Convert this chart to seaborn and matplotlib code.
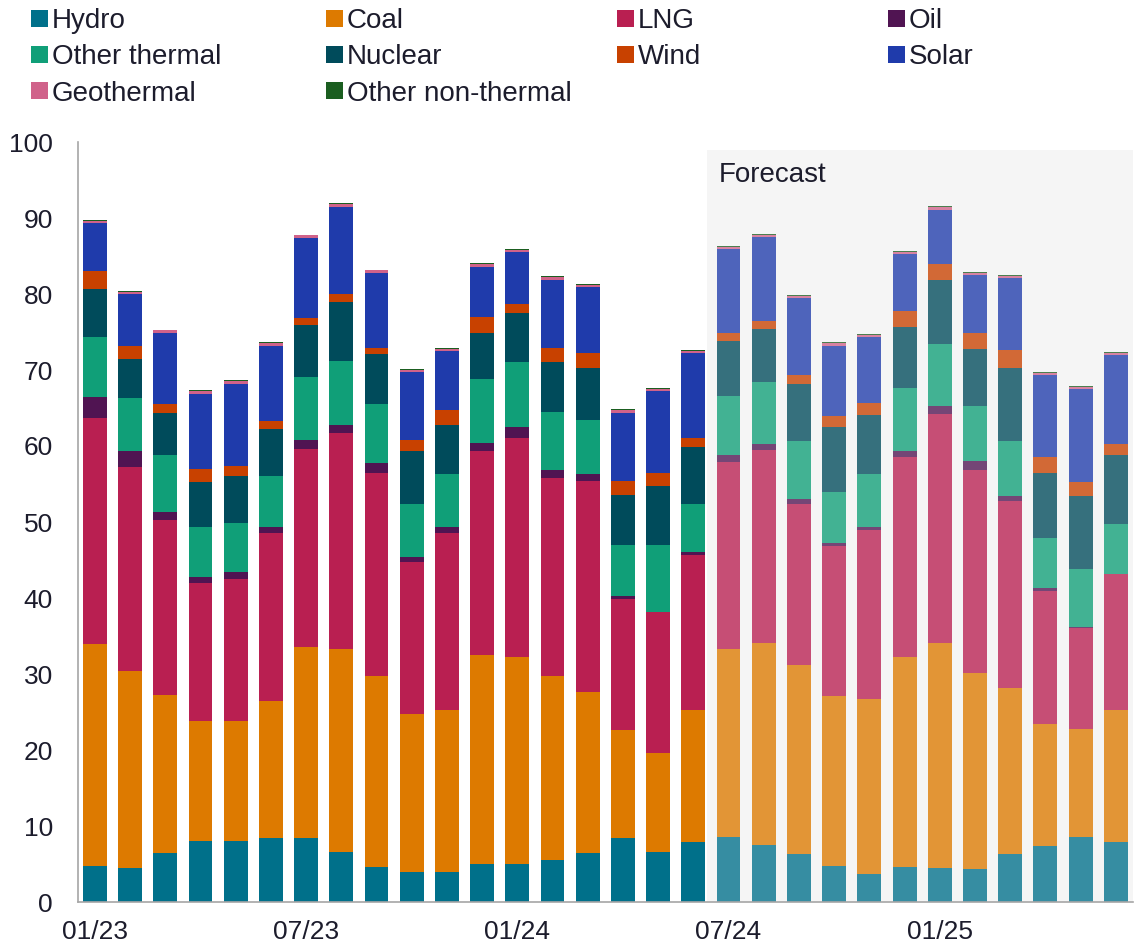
import matplotlib
matplotlib.use("Agg")
import matplotlib.pyplot as plt
import numpy as np
import pandas as pd
import seaborn as sns
from matplotlib.colors import to_rgb
from matplotlib.patches import Patch

# Monthly generation by source, Jan 2023 - Jun 2025 (forecast from Jul 2024)
months = ["01/23", "02/23", "03/23", "04/23", "05/23", "06/23",
          "07/23", "08/23", "09/23", "10/23", "11/23", "12/23",
          "01/24", "02/24", "03/24", "04/24", "05/24", "06/24",
          "07/24", "08/24", "09/24", "10/24", "11/24", "12/24",
          "01/25", "02/25", "03/25", "04/25", "05/25", "06/25"]
forecast_start = "07/24"
tick_months = ["01/23", "07/23", "01/24", "07/24", "01/25"]

hydro = [4.7, 4.5, 6.5, 8.0, 8.0, 8.4, 8.4, 6.6, 4.6, 4.0, 3.9, 5.0, 5.0, 5.5, 6.4,
         8.4, 6.6, 7.9, 8.6, 7.5, 6.3, 4.7, 3.7, 4.6, 4.5, 4.3, 6.3, 7.4, 8.5, 7.9]
coal = [29.3, 25.9, 20.8, 15.8, 15.8, 18.0, 25.2, 26.7, 25.1, 20.7, 21.4, 27.5, 27.3, 24.2, 21.2,
        14.2, 13.0, 17.4, 24.7, 26.6, 24.9, 22.4, 23.0, 27.6, 29.6, 25.8, 21.9, 16.0, 14.2, 17.4]
lng = [29.7, 26.8, 22.9, 18.2, 18.7, 22.1, 26.0, 28.4, 26.8, 20.1, 23.3, 26.8, 28.7, 26.1, 27.8,
       17.3, 18.5, 20.4, 24.6, 25.4, 21.2, 19.7, 22.2, 26.3, 30.1, 26.8, 24.6, 17.5, 13.4, 17.8]
oil = [2.8, 2.2, 1.1, 0.8, 0.9, 0.8, 1.2, 1.1, 1.3, 0.6, 0.7, 1.1, 1.5, 1.1, 0.9,
       0.4, 0.1, 0.3, 0.9, 0.8, 0.6, 0.4, 0.4, 0.9, 1.1, 1.1, 0.6, 0.4, 0.1, 0.1]
other_thermal = [7.8, 6.9, 7.5, 6.5, 6.5, 6.7, 8.3, 8.4, 7.7, 7.0, 7.0, 8.4, 8.5, 7.6, 7.1,
                 6.7, 8.8, 6.4, 7.8, 8.1, 7.6, 6.7, 7.0, 8.2, 8.1, 7.3, 7.2, 6.6, 7.6, 6.6]
nuclear = [6.4, 5.2, 5.5, 6.0, 6.1, 6.2, 6.8, 7.7, 6.6, 6.9, 6.5, 6.1, 6.5, 6.6, 6.8,
           6.6, 7.7, 7.5, 7.2, 7.0, 7.6, 8.6, 7.8, 8.0, 8.4, 7.5, 9.7, 8.6, 9.6, 9.0]
wind = [2.3, 1.7, 1.2, 1.7, 1.4, 1.1, 0.9, 1.1, 0.8, 1.5, 1.9, 2.1, 1.2, 1.8, 2.0,
        1.8, 1.8, 1.2, 1.1, 1.1, 1.1, 1.4, 1.6, 2.2, 2.2, 2.1, 2.3, 2.1, 1.8, 1.4]
solar = [6.3, 6.8, 9.4, 9.9, 10.8, 9.9, 10.6, 11.5, 9.9, 8.9, 7.8, 6.6, 6.8, 9.0, 8.7,
         9.0, 10.7, 11.1, 11.0, 11.0, 10.2, 9.3, 8.6, 7.4, 7.1, 7.6, 9.5, 10.7, 12.3, 11.8]
geothermal = [0.3] * 30
other_non_thermal = [0.12] * 30

series = {
    "Hydro": hydro,
    "Coal": coal,
    "LNG": lng,
    "Oil": oil,
    "Other thermal": other_thermal,
    "Nuclear": nuclear,
    "Wind": wind,
    "Solar": solar,
    "Geothermal": geothermal,
    "Other non-thermal": other_non_thermal,
}
colors = {
    "Hydro": "#00708A",
    "Coal": "#DD7A00",
    "LNG": "#B91F51",
    "Oil": "#501452",
    "Other thermal": "#109F78",
    "Nuclear": "#004B5B",
    "Wind": "#C84100",
    "Solar": "#1F3BAB",
    "Geothermal": "#D0628A",
    "Other non-thermal": "#1B5E20",
}

shade_bg = "#F5F5F5"
text_color = "#1C1C2C"


def faded(c, a=0.78):
    """Colour of c drawn at alpha a over the shaded forecast panel."""
    base = np.array(to_rgb(c))
    bg = np.array(to_rgb(shade_bg))
    return tuple(a * base + (1 - a) * bg)


df = pd.DataFrame({"month": np.repeat(months, len(series)),
                   "source": list(series) * len(months),
                   "value": np.array([series[s] for s in series]).T.ravel()})

sns.set_theme(style="white")
plt.rcParams["font.family"] = ["Liberation Sans", "DejaVu Sans"]

fig = plt.figure(figsize=(11.35, 9.5), dpi=100)
ax = fig.add_axes([78 / 1135, 48 / 950, 1055 / 1135, 760 / 950])

fc_idx = months.index(forecast_start)
n = len(months)
ax.axvspan(fc_idx - 0.61, n - 0.51, ymin=0, ymax=0.99, color=shade_bg, zorder=0, lw=0)

bottom = np.zeros(n)
for src in series:
    sub = df[df["source"] == src]
    before = len(ax.patches)
    sns.barplot(data=sub, x="month", y="value", order=months, color=colors[src],
                saturation=1, width=0.68, errorbar=None, linewidth=0,
                bottom=bottom.copy(), ax=ax, zorder=2)
    for i, patch in enumerate(ax.patches[before:]):
        if i >= fc_idx:
            patch.set_facecolor(faded(colors[src]))
    bottom += np.array(series[src])

ax.text(fc_idx - 0.27, 95.7, "Forecast", fontsize=20, color=text_color,
        va="center", ha="left")

ax.set_xlim(-0.48, n - 0.51)
ax.set_ylim(0, 100)
ax.set_yticks(range(0, 101, 10))
ax.set_xticks([months.index(m) for m in tick_months])
ax.set_xticklabels(tick_months)
ax.set_xlabel("")
ax.set_ylabel("")
ax.tick_params(axis="both", length=0, labelsize=19, labelcolor=text_color)
ax.tick_params(axis="y", pad=18)
ax.tick_params(axis="x", pad=13)
for side in ("top", "right"):
    ax.spines[side].set_visible(False)
for side in ("left", "bottom"):
    ax.spines[side].set_color("#A6A6A6")
    ax.spines[side].set_linewidth(1.2)
ax.grid(False)

# Legend laid out in four columns, read row by row
legend_cols = [["Hydro", "Other thermal", "Geothermal"],
               ["Coal", "Nuclear", "Other non-thermal"],
               ["LNG", "Wind"],
               ["Oil", "Solar"]]
col_x = [31, 326, 617, 888]
for names, x in zip(legend_cols, col_x):
    handles = [Patch(facecolor=colors[s], edgecolor="none") for s in names]
    fig.legend(handles, names, loc="upper left", bbox_to_anchor=(x / 1135, 1 - 8 / 950),
               frameon=False, fontsize=20, handlelength=0.6, handleheight=0.55,
               handletextpad=0.15, labelspacing=0.37, borderpad=0, borderaxespad=0,
               labelcolor=text_color)

fig.savefig("out.png", dpi=100)
